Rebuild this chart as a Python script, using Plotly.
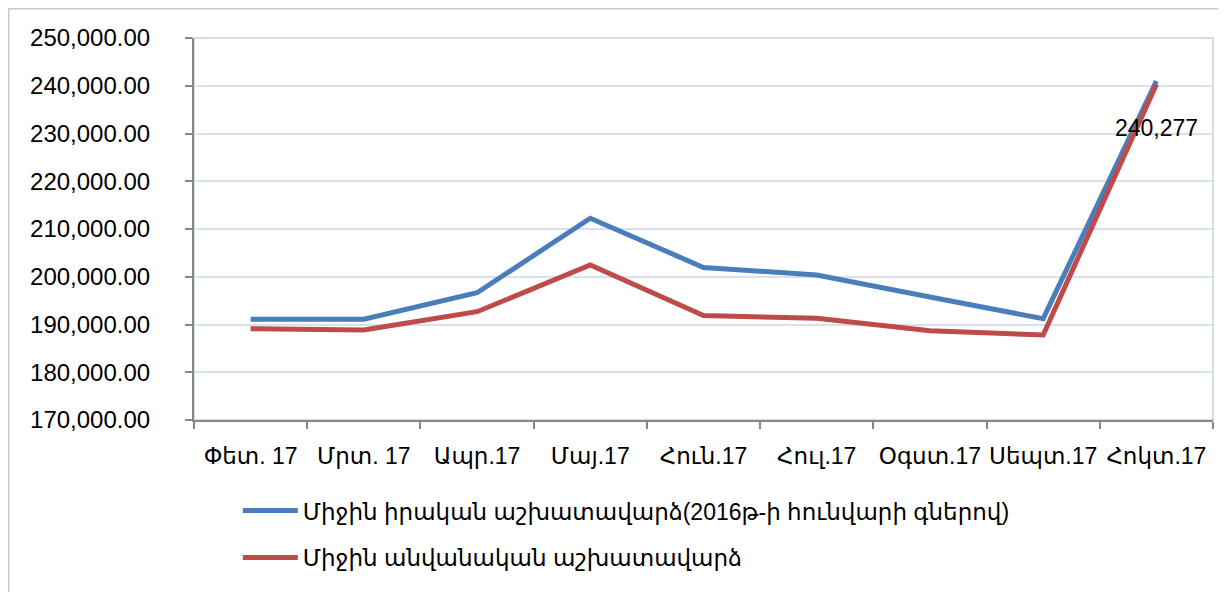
import plotly.graph_objects as go

categories = ["Փետ. 17", "Մրտ. 17", "Ապր.17", "Մայ.17", "Հուն.17", "Հուլ.17", "Օգստ.17", "Սեպտ.17", "Հոկտ.17"]
real_wage = [191100, 191100, 196650, 212250, 201950, 200370, 195760, 191220, 241000]
nominal_wage = [189120, 188850, 192680, 202450, 191880, 191300, 188700, 187800, 240277]
name_real = "Միջին իրական աշխատավարձ(2016թ-ի հունվարի գներով)"
name_nominal = "Միջին անվանական աշխատավարձ"
label_value = 240277

FONT = "Liberation Sans, DejaVu Sans, sans-serif"

# figure-pixel geometry (page has an 8px body margin)
L, T, PW, PH = 186, 30, 1019, 382

fig = go.Figure()
fig.add_trace(go.Scatter(x=categories, y=real_wage, mode="lines", name=name_real,
                         legendgroup="a",
                         line=dict(color="#4A7EBB", width=5)))
fig.add_trace(go.Scatter(x=categories, y=nominal_wage, mode="lines", name=name_nominal,
                         legendgroup="b",
                         line=dict(color="#BE4B48", width=5)))

fig.add_annotation(x=categories[-1], y=label_value, text=f"{label_value:,}",
                   showarrow=False, yshift=-44, xshift=0,
                   font=dict(family=FONT, size=23, color="black"))

# outer frame
fig.add_shape(type="rect", xref="paper", yref="paper",
              x0=(0.75 - L) / PW, x1=(1240 - L) / PW,
              y0=(T + PH - 620) / PH, y1=(T + PH - 0.75) / PH,
              line=dict(color="#BCCADC", width=1.5), layer="below")
# plot area border
fig.add_shape(type="rect", xref="paper", yref="paper", x0=0, x1=1, y0=0, y1=1,
              line=dict(color="#C6D3E3", width=1.5), layer="below")

fig.update_layout(
    width=1218, height=584,
    margin=dict(l=L, r=1218 - L - PW, t=T, b=584 - T - PH),
    paper_bgcolor="white", plot_bgcolor="white",
    font=dict(family=FONT, size=23, color="black"),
    showlegend=True,
    legend=dict(orientation="v", x=0.043, y=-0.181, xanchor="left", yanchor="top",
                tracegroupgap=14, font=dict(size=23), bgcolor="rgba(0,0,0,0)",
                itemwidth=55),
    xaxis=dict(type="category", showgrid=False, showline=True, linecolor="#868686",
               linewidth=2, ticks="outside", tickson="boundaries", ticklen=7,
               tickcolor="#868686", tickwidth=2, tickfont=dict(size=23),
               tickangle=0, automargin=False, ticklabelstandoff=14,
               range=[-0.5, 8.5]),
    yaxis=dict(range=[170000, 250000], dtick=10000, tickformat=",.2f",
               showgrid=True, gridcolor="#D9E1EA", gridwidth=2,
               showline=True, linecolor="#868686", linewidth=2,
               ticks="outside", ticklen=7, tickcolor="#868686", tickwidth=2,
               tickfont=dict(size=24), zeroline=False, automargin=False,
               ticklabelstandoff=30),
)

fig.write_html("out.html")
